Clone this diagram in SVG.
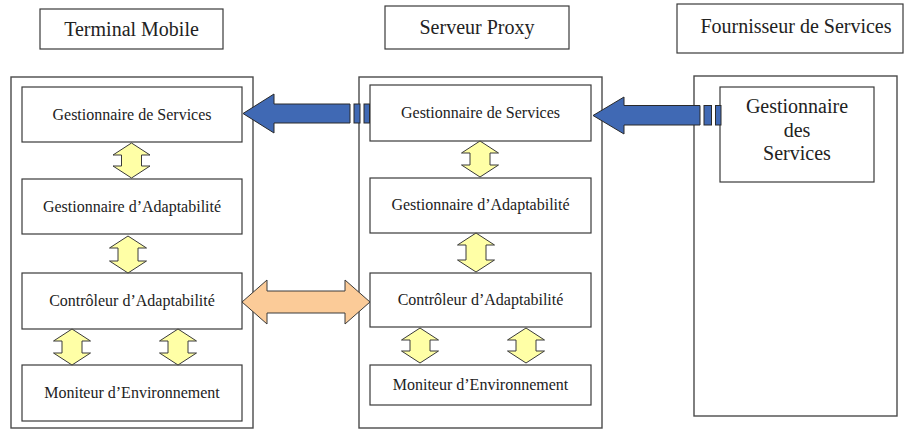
<svg xmlns="http://www.w3.org/2000/svg" width="904" height="430" viewBox="0 0 904 430">
<style>
.bg{fill:#ffffff}
.box{fill:#ffffff;stroke:#3a3a3a;stroke-width:1.2}
.outer{fill:none;stroke:#4a4a4a;stroke-width:1.4}
text{font-family:'Liberation Serif','DejaVu Serif',serif;fill:#222;text-anchor:middle}
.title{font-size:20px}
.lbl{font-size:16px}
.ya{fill:#FFFFA6;stroke:#3a3a3a;stroke-width:1}
.oa{fill:#FBCB98;stroke:#3a3a3a;stroke-width:1}
.ba{fill:#4069B4;stroke:#2a2a2a;stroke-width:1}
</style>
<rect class="bg" x="0" y="0" width="904" height="430"/>

<g id="terminal-mobile">
<rect class="box" x="40" y="9" width="183" height="40"/>
<text class="title" x="131.5" y="36">Terminal Mobile</text>
</g>
<g id="serveur-proxy">
<rect class="box" x="385" y="6" width="184" height="43"/>
<text class="title" x="477" y="34">Serveur Proxy</text>
</g>
<g id="fournisseur-services">
<rect class="box" x="677" y="4" width="226" height="49"/>
<text class="title" x="796" y="33">Fournisseur de Services</text>
</g>

<g id="terminal-container">
<rect class="outer" x="11" y="77" width="242" height="351"/>
</g>
<g id="proxy-container">
<rect class="outer" x="359" y="77" width="243" height="351"/>
</g>
<g id="fournisseur-container">
<rect class="outer" x="694" y="76" width="203" height="340"/>
</g>

<g id="tm-gestionnaire-services">
<rect class="box" x="22" y="87" width="220" height="55"/>
<text class="lbl" x="132" y="120">Gestionnaire de Services</text>
</g>
<g id="tm-gestionnaire-adaptabilite">
<rect class="box" x="22" y="179" width="220" height="55"/>
<text class="lbl" x="132" y="212">Gestionnaire d’Adaptabilité</text>
</g>
<g id="tm-controleur-adaptabilite">
<rect class="box" x="22" y="273" width="220" height="56"/>
<text class="lbl" x="132" y="306">Contrôleur d’Adaptabilité</text>
</g>
<g id="tm-moniteur-environnement">
<rect class="box" x="22" y="365" width="220" height="56"/>
<text class="lbl" x="132" y="398">Moniteur d’Environnement</text>
</g>

<g id="sp-gestionnaire-services">
<rect class="box" x="370" y="85" width="221" height="56"/>
<text class="lbl" x="480.5" y="118">Gestionnaire de Services</text>
</g>
<g id="sp-gestionnaire-adaptabilite">
<rect class="box" x="370" y="178" width="221" height="55"/>
<text class="lbl" x="480.5" y="210">Gestionnaire d’Adaptabilité</text>
</g>
<g id="sp-controleur-adaptabilite">
<rect class="box" x="370" y="273" width="221" height="54"/>
<text class="lbl" x="480.5" y="305">Contrôleur d’Adaptabilité</text>
</g>
<g id="sp-moniteur-environnement">
<rect class="box" x="370" y="365" width="221" height="40"/>
<text class="lbl" x="480.5" y="390">Moniteur d’Environnement</text>
</g>

<g id="fs-gestionnaire-services">
<rect class="box" x="720" y="87" width="154" height="95"/>
<text class="title" x="797" y="113">Gestionnaire</text>
<text class="title" x="797" y="137">des</text>
<text class="title" x="797" y="160">Services</text>
</g>

<g id="connectors">
<path class="ya" d="M131.5,143 L150,155 L141.5,155 L141.5,166 L150,166 L131.5,178 L113,166 L121.5,166 L121.5,155 L113,155 Z"/>
<path class="ya" d="M128,236 L146.5,248 L138,248 L138,261 L146.5,261 L128,273 L109.5,261 L118,261 L118,248 L109.5,248 Z"/>
<path class="ya" d="M72,329 L90.5,341 L82,341 L82,353 L90.5,353 L72,365 L53.5,353 L62,353 L62,341 L53.5,341 Z"/>
<path class="ya" d="M178,329 L196.5,341 L188,341 L188,353 L196.5,353 L178,365 L159.5,353 L168,353 L168,341 L159.5,341 Z"/>
<path class="ya" d="M480,141 L498.5,153 L490,153 L490,165 L498.5,165 L480,177 L461.5,165 L470,165 L470,153 L461.5,153 Z"/>
<path class="ya" d="M476,233 L494.5,245 L486,245 L486,260 L494.5,260 L476,272 L457.5,260 L466,260 L466,245 L457.5,245 Z"/>
<path class="ya" d="M420,328 L438.5,340 L430,340 L430,351 L438.5,351 L420,363 L401.5,351 L410,351 L410,340 L401.5,340 Z"/>
<path class="ya" d="M526,328 L544.5,340 L536,340 L536,351 L544.5,351 L526,363 L507.5,351 L516,351 L516,340 L507.5,340 Z"/>
<path class="oa" d="M242,302 L267,280 L267,291 L345,291 L345,280 L370,302 L345,324 L345,313 L267,313 L267,324 Z"/>
<path class="ba" d="M243,113.5 L274,94 L274,104 L350,104 L350,123 L274,123 L274,133 Z"/>
<rect class="ba" x="354" y="104" width="6" height="19"/>
<rect class="ba" x="364" y="104" width="5.5" height="19"/>
<path class="ba" d="M593,115.5 L624,97 L624,105.5 L700,105.5 L700,125 L624,125 L624,134 Z"/>
<rect class="ba" x="704" y="105.5" width="7.5" height="19.5"/>
<rect class="ba" x="715.5" y="105.5" width="5.5" height="19.5"/>
</g>
</svg>
